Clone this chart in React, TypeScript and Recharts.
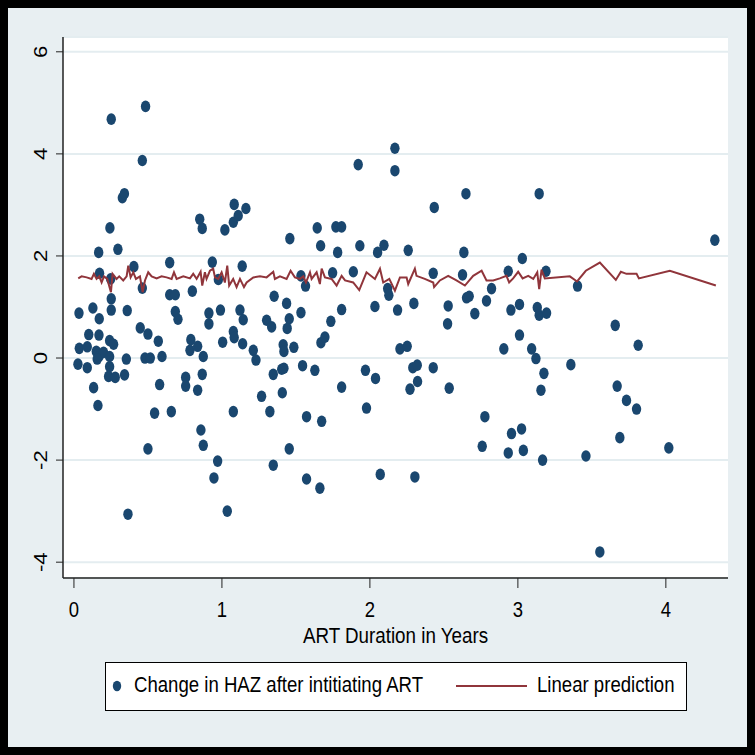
import React from "react";
import { ScatterChart, Scatter, XAxis, YAxis, CartesianGrid } from "recharts";

// ART duration (years) for each child
const durationYears = [
  0.034, 0.027, 0.036, 0.09, 0.09, 0.1, 0.128, 0.133, 0.162, 0.167, 0.173, 0.171, 0.169, 0.151, 0.169, 0.2,
  0.157, 0.241, 0.243, 0.248, 0.252, 0.252, 0.252, 0.241, 0.268, 0.241, 0.234, 0.279, 0.297, 0.327, 0.341,
  0.342, 0.354, 0.36, 0.365, 0.405, 0.462, 0.462, 0.484, 0.448, 0.5, 0.48, 0.516, 0.5, 0.57, 0.579, 0.595,
  0.545, 0.658, 0.647, 0.647, 0.685, 0.685, 0.703,
  0.755, 0.755, 0.79, 0.784, 0.836, 0.874, 0.8, 0.85, 0.867, 0.867, 0.836, 0.858, 0.874, 0.912, 0.912, 0.935,
  0.976, 0.99, 1.005, 1.02, 0.971, 0.946, 1.036, 1.077, 1.083, 1.11, 1.162, 1.137, 1.122, 1.144, 1.077, 1.083,
  1.14, 1.077, 1.212, 1.23, 1.268, 1.302, 1.336, 1.353, 1.324, 1.347, 1.347, 1.404, 1.419, 1.408, 1.414, 1.419,
  1.486, 1.437, 1.459, 1.455, 1.441, 1.455, 1.534, 1.534, 1.565, 1.545, 1.572, 1.572, 1.628, 1.644, 1.667,
  1.669, 1.696, 1.674, 1.662,
  1.736, 1.748, 1.77, 1.809, 1.782, 1.809, 1.809, 1.888, 1.921, 1.932, 1.97, 1.977, 2.034, 2.038, 2.052, 2.095,
  2.07, 2.12, 2.128, 2.169, 2.169, 2.187, 2.203, 2.252, 2.259, 2.297, 2.29, 2.32, 2.271, 2.322, 2.304,
  2.428, 2.435, 2.428, 2.529, 2.525, 2.536, 2.626, 2.635, 2.649, 2.653, 2.671, 2.709, 2.759, 2.777, 2.788,
  2.822, 2.905, 2.935, 2.953, 2.935, 2.957, 3.011, 3.011, 3.03, 3.025, 3.037, 3.093, 3.122, 3.131, 3.144,
  3.144, 3.156, 3.167, 3.176, 3.19, 3.194,
  3.358, 3.403, 3.46, 3.554, 3.658, 3.671, 3.689, 3.734, 3.802, 3.813, 4.02, 4.331,
];

// change in HAZ after initiating ART
const hazChange = [
  0.88, -0.12, 0.19, 0.22, -0.19, 0.46, 0.98, -0.58, -0.93, 2.07, 1.66, 0.77, 0.45, 0.13, 0.03, 0.11,
  -0.02, 0.03, 2.55, 1.55, 1.16, 0.94, 4.68, 0.34, 0.27, -0.17, -0.36, -0.38, 2.13, 3.14, 3.22,
  -0.33, -0.02, 0.93, -3.06, 1.79, 3.87, 1.37, 4.93, 0.59, 0.47, 0.0, 0.0, -1.78, 0.33, -0.52, 0.03,
  -1.08, -1.05, 1.87, 1.24, 1.24, 0.91, 0.76,
  -0.38, -0.55, 0.36, 0.15, 0.23, 0.03, 1.31, 2.72, 2.54, -0.32, -0.63, -1.41, -1.71, 0.88, 0.67, 1.88,
  1.54, 0.94, 0.31, 2.51, -2.02, -2.35, -3.0, 2.66, 3.01, 2.79, 2.93, 1.8, 0.94, 0.75, 0.52, 0.4,
  0.28, -1.05, 0.15, -0.04, -0.75, 0.74, 0.61, 1.21, -1.05, -0.32, -2.1, -0.22, -0.2, -0.68, 0.26, 0.13,
  0.21, 1.07, 2.34, 0.77, 0.58, -1.78, 0.89, 1.61, 1.41, -0.15, -1.15, -2.37, -0.24, 2.55, 2.2,
  0.3, 0.41, -1.24, -2.55,
  0.72, 1.67, 2.57, 2.57, 2.07, 0.95, -0.57, 1.69, 3.79, 2.2, -0.24, -0.98, 1.01, -0.4, 2.07, 2.21,
  -2.28, 1.36, 1.23, 4.11, 3.67, 0.94, 0.18, 0.23, 2.11, 1.07, -0.19, -0.14, -0.61, -0.46, -2.33,
  1.66, 2.95, -0.19, 1.02, 0.67, -0.59, 1.63, 2.07, 3.22, 1.18, 1.21, 0.87, -1.73, -1.15, 1.12,
  1.36, 0.18, 1.7, 0.94, -1.86, -1.48, 1.05, 0.45, 1.95, -1.39, -1.81, 0.18, -0.01, 0.99, 0.84,
  3.22, -0.63, -2.0, -0.3, 1.7, 0.88,
  -0.13, 1.41, -1.92, -3.8, 0.64, -0.55, -1.56, -0.83, -1.0, 0.25, -1.76, 2.31,
];

// linear prediction, sorted by duration
const predYears = [
  0.029, 0.052, 0.086, 0.119, 0.135, 0.153, 0.171, 0.187, 0.203, 0.225, 0.25, 0.261, 0.288, 0.306, 0.333,
  0.356, 0.367, 0.383, 0.401, 0.419, 0.446, 0.464, 0.48, 0.502, 0.525, 0.559, 0.592, 0.626, 0.66, 0.676,
  0.694, 0.739, 0.784, 0.806, 0.829, 0.856, 0.867, 0.885, 0.896, 0.919, 0.941, 0.953, 0.975, 0.998, 1.02,
  1.036, 1.049, 1.076, 1.099, 1.122, 1.149, 1.167, 1.212, 1.257, 1.302, 1.347, 1.358, 1.392, 1.437, 1.464,
  1.493, 1.527, 1.55, 1.568, 1.595, 1.606, 1.64, 1.662, 1.674, 1.696, 1.741, 1.775, 1.809, 1.832, 1.887,
  1.928, 1.977, 2.034, 2.068, 2.09, 2.131, 2.169, 2.203, 2.248, 2.259, 2.304, 2.315, 2.371, 2.428, 2.434,
  2.473, 2.529, 2.585, 2.642, 2.698, 2.755, 2.788, 2.833, 2.878, 2.923, 2.941, 2.968, 3.002, 3.032, 3.07,
  3.104, 3.131, 3.144, 3.16, 3.182, 3.351, 3.4, 3.459, 3.554, 3.662, 3.696, 3.734, 3.802, 3.818, 4.027, 4.338,
];
const predHaz = [
  1.56, 1.6, 1.58, 1.55, 1.65, 1.55, 1.6, 1.48, 1.6, 1.55, 1.29, 1.65, 1.55, 1.6, 1.52,
  1.6, 1.81, 1.58, 1.68, 1.55, 1.6, 1.29, 1.52, 1.68, 1.6, 1.56, 1.6, 1.58, 1.55, 1.68,
  1.55, 1.6, 1.56, 1.65, 1.55, 1.69, 1.42, 1.68, 1.55, 1.71, 1.75, 1.58, 1.55, 1.68, 1.48,
  1.81, 1.42, 1.55, 1.39, 1.55, 1.39, 1.48, 1.58, 1.6, 1.58, 1.69, 1.55, 1.6, 1.55, 1.71,
  1.58, 1.55, 1.6, 1.48, 1.68, 1.55, 1.68, 1.45, 1.75, 1.58, 1.55, 1.42, 1.61, 1.52, 1.48,
  1.33, 1.68, 1.55, 1.75, 1.48, 1.55, 1.32, 1.58, 1.58, 1.45, 1.75, 1.61, 1.55, 1.48, 1.39,
  1.52, 1.61, 1.52, 1.42, 1.61, 1.71, 1.52, 1.52, 1.56, 1.61, 1.48, 1.56, 1.69, 1.56, 1.61,
  1.55, 1.68, 1.35, 1.73, 1.56, 1.6, 1.5, 1.71, 1.87, 1.53, 1.69, 1.65, 1.65, 1.56, 1.71, 1.42,
];

const xTicks = [0, 1, 2, 3, 4];
const yTicks = [-4, -2, 0, 2, 4, 6];

const FONT = "'Liberation Sans', Arial, sans-serif";
const NAVY = "#1a476f";
const MAROON = "#90353b";
const BG = "#e8eff2";
const GRID = "#e4edf0";

const points = durationYears.map((x, i) => ({ x, y: hazChange[i] }));
const prediction = predYears.map((x, i) => ({ x, y: predHaz[i] }));

function Dot(props: any) {
  const { cx, cy } = props;
  return <ellipse cx={cx} cy={cy} rx={4.7} ry={5.8} fill={NAVY} />;
}

function NoDot() {
  return <g />;
}

function XTick(props: any) {
  const { x, y, payload } = props;
  return (
    <text
      transform={`translate(${x},${y + 27}) scale(1,1.2)`}
      textAnchor="middle"
      fontFamily={FONT}
      fontSize={18.5}
      fill="#000"
    >
      {payload.value}
    </text>
  );
}

function YTick(props: any) {
  const { x, y, payload } = props;
  return (
    <text
      transform={`translate(${x - 7},${y}) scale(1,1.2) rotate(-90)`}
      textAnchor="middle"
      fontFamily={FONT}
      fontSize={18.5}
      fill="#000"
    >
      {payload.value}
    </text>
  );
}

function XTitle(props: any) {
  const { viewBox } = props;
  const cx = viewBox.x + viewBox.width / 2;
  return (
    <text
      transform={`translate(${cx},${viewBox.y + 65}) scale(1,1.2)`}
      textAnchor="middle"
      fontFamily={FONT}
      fontSize={18.8}
      fill="#000"
    >
      ART Duration in Years
    </text>
  );
}

const legendText: React.CSSProperties = {
  position: "absolute",
  top: 12,
  fontFamily: FONT,
  fontSize: 18.6,
  lineHeight: "20px",
  color: "#000",
  whiteSpace: "nowrap",
  transform: "scaleY(1.2)",
};

export default function App() {
  return (
    <div style={{ position: "absolute", left: 0, top: 0, width: 755, height: 755 }}>
      <div
        style={{
          position: "absolute",
          inset: 0,
          background: BG,
          border: "8px solid #000",
          boxSizing: "border-box",
        }}
      />
      <div style={{ position: "absolute", left: 0, top: 0 }}>
        <ScatterChart width={755} height={755} margin={{ top: 37, right: 27, left: 23, bottom: 137 }}>
          <CartesianGrid vertical={false} stroke={GRID} strokeWidth={2} fill="#fff" />
          <XAxis
            type="number"
            dataKey="x"
            domain={[-0.074, 4.42]}
            ticks={xTicks}
            allowDataOverflow
            height={40}
            tickSize={10}
            tick={<XTick />}
            axisLine={{ stroke: "#222", strokeWidth: 1.5 }}
            tickLine={{ stroke: "#222", strokeWidth: 1 }}
            label={<XTitle />}
          />
          <YAxis
            type="number"
            dataKey="y"
            domain={[-4.31, 6.29]}
            ticks={yTicks}
            allowDataOverflow
            width={40}
            tickSize={7}
            tick={<YTick />}
            axisLine={{ stroke: "#222", strokeWidth: 1.5 }}
            tickLine={{ stroke: "#222", strokeWidth: 1 }}
          />
          <Scatter data={points} shape={<Dot />} isAnimationActive={false} />
          <Scatter
            data={prediction}
            shape={<NoDot />}
            line={{ stroke: MAROON, strokeWidth: 2 }}
            lineType="joint"
            isAnimationActive={false}
          />
        </ScatterChart>
      </div>
      <div
        style={{
          position: "absolute",
          left: 105,
          top: 662,
          width: 582,
          height: 49,
          background: "#fff",
          border: "1px solid #000",
          boxSizing: "border-box",
        }}
      >
        <svg style={{ position: "absolute", left: 0, top: 0 }} width={580} height={47}>
          <ellipse cx={11} cy={23} rx={4.2} ry={5.2} fill={NAVY} />
          <line x1={350} x2={421} y1={23} y2={23} stroke={MAROON} strokeWidth={2} />
        </svg>
        <span style={{ ...legendText, left: 28 }}>Change in HAZ after intitiating ART</span>
        <span style={{ ...legendText, left: 431 }}>Linear prediction</span>
      </div>
    </div>
  );
}
